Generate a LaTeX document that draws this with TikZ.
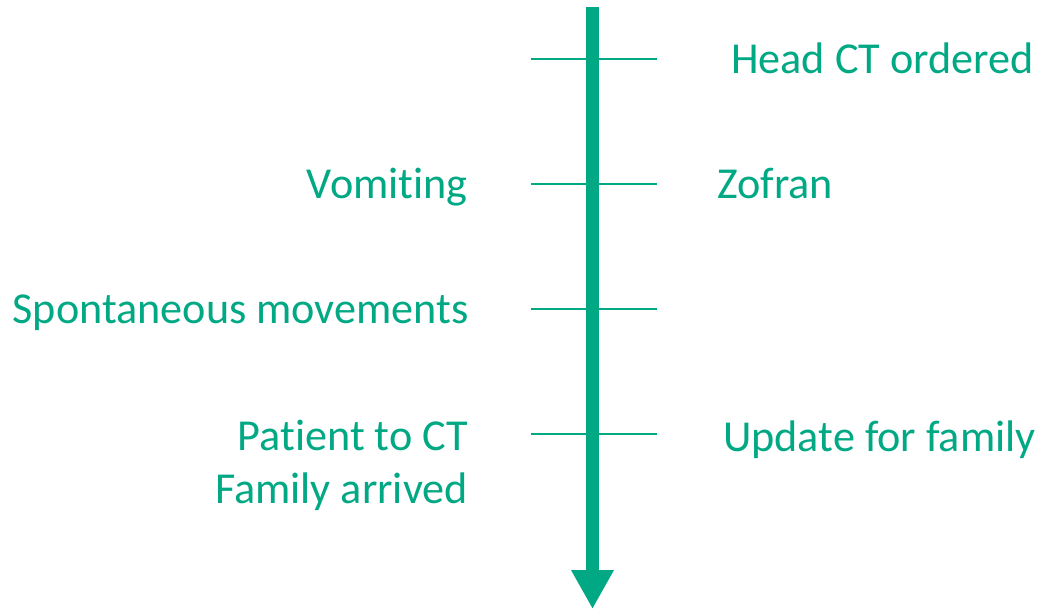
\documentclass[tikz,border=0pt]{standalone}
\usepackage{fontspec}
\setmainfont{Carlito}[Ligatures={TeX,NoCommon}]
\usetikzlibrary{arrows.meta}
\definecolor{tl}{RGB}{0,168,132}
\begin{document}
\begin{tikzpicture}[x=1pt,y=-1pt,
  lbl/.style={text=tl,font=\fontsize{44.2}{53}\selectfont,inner sep=0pt},
  lft/.style={lbl,anchor=base east,align=right},
  rgt/.style={lbl,anchor=base west},
  tick/.style={draw=tl,line width=1.6pt}]
\useasboundingbox (0,0) rectangle (1040,610);
\coordinate (top) at (592.5,7);
\coordinate (bot) at (592.5,609);
\foreach \n/\y in {1/59,2/184,3/309,4/434}{
  \coordinate (tl\n) at (531,\y);
  \coordinate (tr\n) at (657,\y);
  \draw[tick] (tl\n) -- (tr\n);
}
\draw[draw=tl,line width=13pt,-{Triangle[width=40pt,length=39pt]}] (top) -- (bot);
\node[rgt] (hct) at (731,73) {Head CT ordered};
\node[lft] (vom) at (468,198) {Vomiting};
\node[rgt] (zof) at (717,198) {Zofran};
\node[lft] (spo) at (469,323) {Spontaneous movements};
\node[lft] (pat) at (468,503) {Patient to CT\\Family arrived};
\node[rgt] (upd) at (723,451) {Update for family};
\end{tikzpicture}
\end{document}
